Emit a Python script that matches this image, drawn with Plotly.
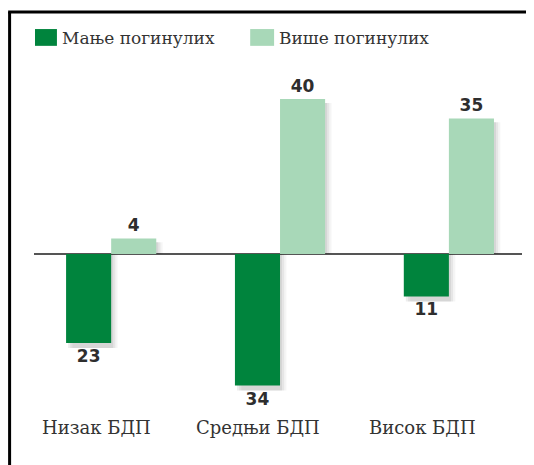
import plotly.graph_objects as go

categories = ["Низак БДП", "Средњи БДП", "Висок БДП"]
series_names = ["Мање погинулих", "Више погинулих"]
fewer_deaths = [-23, -34, -11]
more_deaths = [4, 40, 35]
fewer_labels = ["23", "34", "11"]
more_labels = ["4", "40", "35"]

DARK = "#00843D"
LIGHT = "#A8D8B8"
W = 0.267

fig = go.Figure()

# soft shadows (drawn first, beneath bars)
def shadow(vals, off, shift, alpha):
    ys = [v - 1.3 if v < 0 else v - 1.0 for v in vals]
    fig.add_trace(go.Bar(x=categories, y=ys, offset=off + shift, width=W,
                         marker=dict(color=f"rgba(0,0,0,{alpha})", line=dict(width=0)),
                         hoverinfo="skip", showlegend=False))

for sh, a in [(0.012, 0.07), (0.025, 0.06), (0.038, 0.04)]:
    shadow(fewer_deaths, -W, sh, a)
    shadow(more_deaths, 0, sh, a)

label_font = dict(family="DejaVu Sans", size=17, color="#2e2e2e", weight="bold")

fig.add_trace(go.Bar(x=categories, y=fewer_deaths, name=series_names[0],
                     offset=-W, width=W, marker=dict(color=DARK, line=dict(width=0)),
                     text=fewer_labels, textposition="outside", textfont=label_font,
                     cliponaxis=False, showlegend=False))
fig.add_trace(go.Bar(x=categories, y=more_deaths, name=series_names[1],
                     offset=0, width=W, marker=dict(color=LIGHT, line=dict(width=0)),
                     text=more_labels, textposition="outside", textfont=label_font,
                     cliponaxis=False, showlegend=False))

cat_font = dict(family="DejaVu Serif", size=18, color="#333333")
leg_font = dict(family="DejaVu Serif", size=17, color="#333333")

annotations = []
label_shifts = (-15, -22, -26)
for c, s in zip(categories, label_shifts):
    annotations.append(dict(x=c, y=-0.02, xref="x", yref="paper", text=c,
                            showarrow=False, xanchor="center", yanchor="middle",
                            xshift=s, font=cat_font))

# legend
shapes = [
    dict(type="rect", xref="paper", yref="paper", x0=0.002, x1=0.047, y0=1.069, y1=1.117,
         fillcolor=DARK, line=dict(width=0)),
    dict(type="rect", xref="paper", yref="paper", x0=0.443, x1=0.492, y0=1.069, y1=1.117,
         fillcolor=LIGHT, line=dict(width=0)),
    # frame
    dict(type="line", xref="paper", yref="paper", x0=-0.050, x1=-0.050, y0=1.166, y1=-0.2,
         line=dict(color="black", width=3)),
    dict(type="line", xref="paper", yref="paper", x0=-0.053, x1=1.05, y0=1.166, y1=1.166,
         line=dict(color="black", width=3)),
]
annotations.append(dict(x=0.053, y=1.091, xref="paper", yref="paper", text=series_names[0],
                        showarrow=False, xanchor="left", yanchor="middle", font=leg_font))
annotations.append(dict(x=0.498, y=1.091, xref="paper", yref="paper", text=series_names[1],
                        showarrow=False, xanchor="left", yanchor="middle", font=leg_font))

fig.update_layout(
    width=534, height=465,
    margin=dict(l=26, r=20, t=62, b=53),
    paper_bgcolor="white", plot_bgcolor="white",
    barmode="overlay",
    showlegend=False,
    xaxis=dict(range=[-0.457, 2.433], showticklabels=False, showgrid=False,
               zeroline=False, showline=False, ticks=""),
    yaxis=dict(range=[-42.9, 47.5], showticklabels=False, showgrid=False,
               zeroline=True, zerolinecolor="#555555", zerolinewidth=1.5,
               showline=False, ticks=""),
    shapes=shapes,
    annotations=annotations,
)

fig.write_html("out.html")
